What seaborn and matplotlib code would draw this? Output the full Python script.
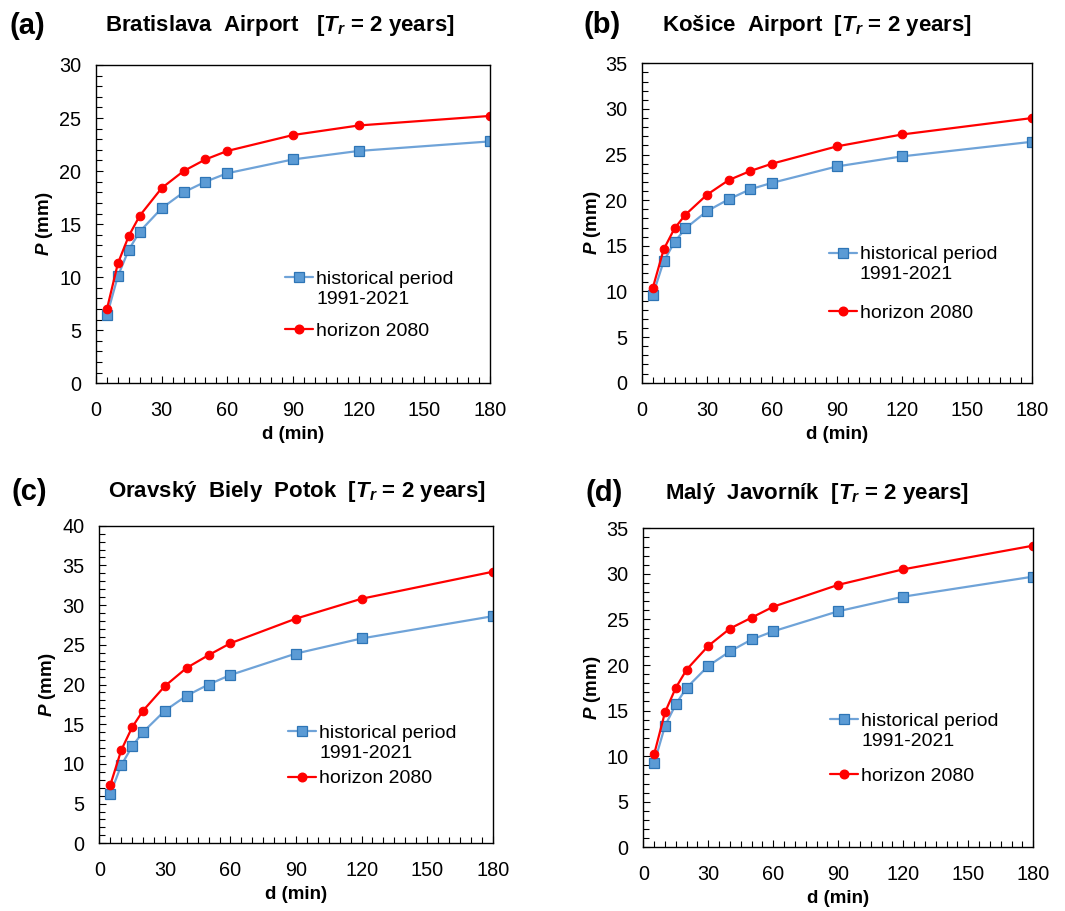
import matplotlib
matplotlib.use("Agg")
import matplotlib.pyplot as plt
import seaborn as sns
import pandas as pd
from matplotlib.lines import Line2D
from matplotlib.ticker import MultipleLocator

# ---------------- data ----------------
durations = [5, 10, 15, 20, 30, 40, 50, 60, 90, 120, 180]
x_ticks = [0, 30, 60, 90, 120, 150, 180]

bratislava_hist = [6.4, 10.1, 12.6, 14.3, 16.5, 18.0, 19.0, 19.8, 21.1, 21.9, 22.8]
bratislava_2080 = [7.0, 11.3, 13.9, 15.8, 18.4, 20.0, 21.1, 21.9, 23.4, 24.3, 25.2]
kosice_hist = [9.6, 13.3, 15.4, 16.9, 18.8, 20.1, 21.2, 21.9, 23.7, 24.8, 26.4]
kosice_2080 = [10.4, 14.6, 16.9, 18.4, 20.6, 22.2, 23.2, 24.0, 25.9, 27.2, 29.0]
oravsky_hist = [6.2, 9.8, 12.2, 14.0, 16.7, 18.6, 20.0, 21.2, 23.9, 25.8, 28.6]
oravsky_2080 = [7.3, 11.7, 14.6, 16.7, 19.8, 22.1, 23.7, 25.2, 28.3, 30.8, 34.2]
maly_hist = [9.2, 13.3, 15.7, 17.5, 19.9, 21.5, 22.8, 23.7, 25.9, 27.5, 29.7]
maly_2080 = [10.2, 14.8, 17.5, 19.5, 22.1, 24.0, 25.2, 26.4, 28.8, 30.5, 33.1]

panel_letters = ["(a)", "(b)", "(c)", "(d)"]
station_titles = [
    r"Bratislava  Airport   [$\mathbfit{T}_{\mathbfit{r}}$ = 2 years]",
    r"Košice  Airport  [$\mathbfit{T}_{\mathbfit{r}}$ = 2 years]",
    r"Oravský  Biely  Potok  [$\mathbfit{T}_{\mathbfit{r}}$ = 2 years]",
    r"Malý  Javorník  [$\mathbfit{T}_{\mathbfit{r}}$ = 2 years]",
]
y_max = [30, 35, 40, 35]
hist_label_lines = ["historical period", "1991-2021"]
future_label = "horizon 2080"
x_label = "d (min)"
y_label = r"$\mathbfit{P}$ (mm)"

hist_series = [bratislava_hist, kosice_hist, oravsky_hist, maly_hist]
future_series = [bratislava_2080, kosice_2080, oravsky_2080, maly_2080]

# ---------------- style ----------------
sns.set_style("white")
plt.rcParams["font.family"] = ["Liberation Sans", "DejaVu Sans"]
plt.rcParams["mathtext.fontset"] = "custom"
plt.rcParams["mathtext.rm"] = "Liberation Sans"
plt.rcParams["mathtext.it"] = "Liberation Sans:italic"
plt.rcParams["mathtext.bf"] = "Liberation Sans:bold"
if "mathtext.bfit" in plt.rcParams:
    plt.rcParams["mathtext.bfit"] = "Liberation Sans:italic:bold"
for key in ["text.color", "axes.labelcolor", "xtick.color", "ytick.color", "axes.edgecolor"]:
    plt.rcParams[key] = "black"

BLUE_LINE = "#6FA3D8"
BLUE_FACE = "#5B9BD5"
BLUE_EDGE = "#2E75B6"
RED = "#FF0000"

W, H = 1065, 911
fig = plt.figure(figsize=(W / 100, H / 100), dpi=100)

# axes boxes in pixels: left, right, top, bottom
boxes = [
    (96, 490, 65, 383.3),
    (642, 1032, 63.3, 382.7),
    (99.3, 492.7, 525.7, 843.3),
    (643.3, 1033.3, 528.3, 847.3),
]
legend_pos = [  # x, y of block1 center, y of block2 center (axes fraction)
    (0.480, 0.296, 0.165),
    (0.479, 0.370, 0.218),
    (0.480, 0.315, 0.204),
    (0.479, 0.364, 0.222),
]
ylabel_x = [-0.104, -0.099, -0.106, -0.103]
title_pos = [(280, 26), (817, 25), (297, 492), (817, 493)]
letter_pos = [(27, 26), (602, 25), (29, 492), (604, 493)]

for i in range(4):
    l, r, t, b = boxes[i]
    ax = fig.add_axes([l / W, 1 - b / H, (r - l) / W, (b - t) / H])
    df = pd.DataFrame({"d": durations, "hist": hist_series[i], "fut": future_series[i]})

    sns.lineplot(data=df, x="d", y="hist", ax=ax, color=BLUE_LINE, lw=1.6,
                 marker="s", markersize=6.5, markerfacecolor=BLUE_FACE,
                 markeredgecolor=BLUE_EDGE, markeredgewidth=0.9, legend=False)
    sns.lineplot(data=df, x="d", y="fut", ax=ax, color=RED, lw=1.6,
                 marker="o", markersize=6.2, markerfacecolor=RED,
                 markeredgecolor=RED, legend=False)

    ax.set_xlim(0, 180)
    ax.set_ylim(0, y_max[i])
    ax.set_xticks(x_ticks)
    ax.xaxis.set_minor_locator(MultipleLocator(5))
    ax.yaxis.set_major_locator(MultipleLocator(5))
    ax.yaxis.set_minor_locator(MultipleLocator(1))
    ax.tick_params(axis="both", which="both", direction="in", color="black",
                   labelcolor="black", left=True, bottom=True, top=False, right=False)
    ax.tick_params(axis="both", which="major", length=5, width=0.8, labelsize=14.3)
    ax.tick_params(axis="both", which="minor", length=4, width=0.8)
    ax.tick_params(axis="x", which="major", pad=13)
    ax.tick_params(axis="y", which="major", pad=10.5)
    for s in ax.spines.values():
        s.set_color("black")
        s.set_linewidth(1.0)
        s.set_visible(True)
    ax.grid(False)

    ax.set_xlabel(x_label, fontsize=13.5, fontweight="bold", color="black")
    ax.set_ylabel(y_label, fontsize=13.5, fontweight="bold", color="black")
    ax.xaxis.set_label_coords(0.5, -0.135)
    ax.yaxis.set_label_coords(ylabel_x[i], 0.5)

    # legends
    lx, ly1, ly2 = legend_pos[i]
    h_blue = Line2D([], [], color=BLUE_LINE, lw=1.6, marker="s", markersize=6.5,
                    markerfacecolor=BLUE_FACE, markeredgecolor=BLUE_EDGE, markeredgewidth=0.9)
    h_none = Line2D([], [], linestyle="none")
    h_red = Line2D([], [], color=RED, lw=1.6, marker="o", markersize=6.2,
                   markerfacecolor=RED, markeredgecolor=RED)
    common = dict(frameon=False, fontsize=14, handlelength=1.45, handletextpad=0.15,
                  borderpad=0, borderaxespad=0, loc="center left", labelcolor="black")
    leg1 = ax.legend([h_blue, h_none], hist_label_lines, labelspacing=0.12,
                     bbox_to_anchor=(lx, ly1), **common)
    ax.add_artist(leg1)
    ax.legend([h_red], [future_label], bbox_to_anchor=(lx, ly2), **common)

    tx, ty = title_pos[i]
    fig.text(tx / W, 1 - ty / H, station_titles[i], ha="center", va="center",
             fontsize=16, fontweight="bold", color="black")
    px, py = letter_pos[i]
    fig.text(px / W, 1 - py / H, panel_letters[i], ha="center", va="center",
             fontsize=21, fontweight="bold", color="black")

fig.savefig("out.png", dpi=100)
